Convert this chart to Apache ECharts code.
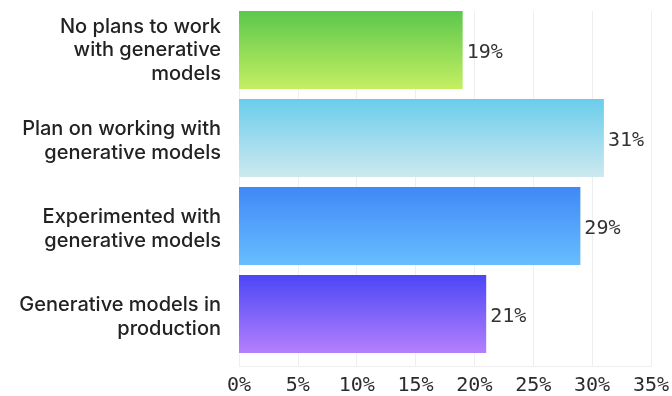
<!DOCTYPE html>
<html>
<head>
<meta charset="utf-8">
<style>
  html, body { margin: 0; padding: 0; background: #ffffff; }
  #chart { width: 672px; height: 396px; }
</style>
<script src="https://cdn.jsdelivr.net/npm/echarts@6/dist/echarts.min.js"></script>
</head>
<body>
<div id="chart"></div>
<script>
// Survey answers, top to bottom
const categories = [
  'No plans to work\nwith generative\nmodels',
  'Plan on working with\ngenerative models',
  'Experimented with\ngenerative models',
  'Generative models in\nproduction'
];
const shares = [19, 31, 29, 21];
const tickValues = [0, 5, 10, 15, 20, 25, 30, 35];

// Vertical gradient per bar: [top, bottom]
const barGradients = [
  ['#5bc84c', '#c5ef62'],
  ['#6acdec', '#cde9ef'],
  ['#4088f7', '#66befe'],
  ['#4b47f5', '#b57ffd']
];

const chart = echarts.init(document.getElementById('chart'), null, { renderer: 'canvas' });

const monoFont = '"DejaVu Sans Mono", "Liberation Mono", monospace';
const sansFont = 'Inter, "Noto Sans", sans-serif';

// Category label: each line styled; two-line labels get a thin spacer line
// on top so they sit slightly below the bar centre.
function categoryLabel(text) {
  const lines = text.split('\n').map(l => '{t|' + l + '}');
  if (lines.length < 3) lines.unshift('{g| }');
  return lines.join('\n');
}

chart.setOption({
  animation: false,
  backgroundColor: '#ffffff',
  grid: [
    // bars
    { left: 239, right: 21, top: 6, bottom: 38, containLabel: false },
    // scale, grid lines and tick labels
    { left: 239, right: 21, top: 11, bottom: 28, containLabel: false }
  ],
  xAxis: [
    {
      gridIndex: 0, type: 'value', min: 0, max: 35, interval: 5,
      show: false
    },
    {
      gridIndex: 1, type: 'value', min: 0, max: 35, interval: 5,
      axisLine: { show: true, lineStyle: { color: '#eeeeee', width: 1 } },
      axisTick: { show: false },
      splitLine: { show: true, lineStyle: { color: '#eeeeee', width: 1 } },
      axisLabel: {
        margin: 10,
        fontFamily: monoFont, fontSize: 20, fontWeight: 500, color: '#2b2b2b',
        formatter: v => tickValues.includes(v) ? v + '%' : ''
      }
    }
  ],
  yAxis: [
    {
      gridIndex: 0, type: 'category', data: categories, inverse: true,
      axisLine: { show: false }, axisTick: { show: false },
      splitLine: { show: false },
      axisLabel: {
        margin: 18, align: 'right',
        formatter: categoryLabel,
        rich: {
          t: {
            fontFamily: sansFont, fontSize: 20, fontWeight: 500,
            color: '#222222', lineHeight: 23.5, align: 'right'
          },
          g: { fontSize: 1, lineHeight: 6 }
        }
      }
    },
    {
      gridIndex: 1, type: 'category', data: categories, inverse: true,
      show: false
    }
  ],
  series: [
    {
      type: 'bar',
      xAxisIndex: 0, yAxisIndex: 0,
      barWidth: 78,
      data: shares.map((v, i) => ({
        value: v,
        itemStyle: {
          color: new echarts.graphic.LinearGradient(0, 0, 0, 1, [
            { offset: 0, color: barGradients[i][0] },
            { offset: 1, color: barGradients[i][1] }
          ])
        }
      })),
      label: {
        show: true, position: 'right', distance: 4, offset: [0, 3],
        fontFamily: monoFont, fontSize: 20, color: '#333333',
        formatter: p => p.value + '%'
      }
    }
  ]
});
</script>
</body>
</html>
